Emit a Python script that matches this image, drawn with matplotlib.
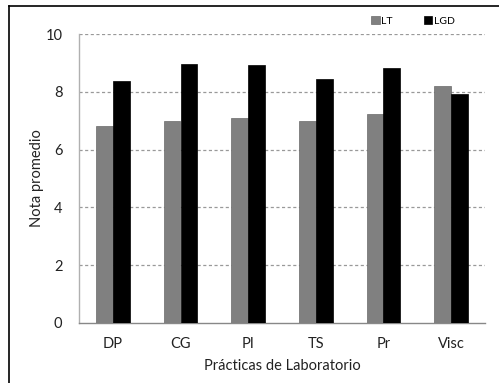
import matplotlib
matplotlib.use("Agg")
import matplotlib.pyplot as plt
import numpy as np
from matplotlib.lines import Line2D

categories = ["DP", "CG", "PI", "TS", "Pr", "Visc"]
lt_values = [6.80, 7.00, 7.08, 6.98, 7.22, 8.19]
lgd_values = [8.38, 8.95, 8.92, 8.45, 8.81, 7.92]
y_ticks = [0, 2, 4, 6, 8, 10]

plt.rcParams['font.family'] = ['Lato', 'DejaVu Sans']

fig = plt.figure(figsize=(4.99, 3.83), dpi=100)
ax = fig.add_axes([79/499, 1 - 323/383, (485-79)/499, (323-34)/383])

x = np.arange(len(categories))
w = 0.25
ax.bar(x - w/2, lt_values, w, color="#808080", edgecolor="#6a6a6a", linewidth=0.5, label="LT", zorder=3)
ax.bar(x + w/2, lgd_values, w, color="#000000", edgecolor="#000000", linewidth=0.5, label="LGD", zorder=3)

ax.set_xlim(-0.5, len(categories) - 0.5)
ax.set_ylim(0, 10)
ax.set_yticks(y_ticks)
ax.set_xticks(x)
ax.set_xticklabels(categories)
ax.tick_params(axis='both', length=0, labelsize=10.5, colors="#222222", pad=12)
ax.tick_params(axis='x', pad=10)
for t in y_ticks[1:]:
    ax.axhline(t, color="#999999", linestyle=(0, (2.5, 2)), linewidth=0.9, zorder=1)

for s in ["top", "right"]:
    ax.spines[s].set_visible(False)
ax.spines["left"].set_color("#b0b0b0")
ax.spines["bottom"].set_color("#888888")
ax.spines["left"].set_linewidth(1.0)
ax.spines["bottom"].set_linewidth(1.0)

ax.set_ylabel("Nota promedio", fontsize=10.5, color="#222222")
ax.yaxis.set_label_coords(-0.085, 0.5)
ax.set_xlabel("Prácticas de Laboratorio", fontsize=10.5, color="#222222", labelpad=6)

leg = ax.legend(loc="upper left", bbox_to_anchor=(0.72, 1.062), ncol=2, frameon=False,
                fontsize=7.5, handlelength=0.8, handleheight=0.8, handletextpad=0.15,
                columnspacing=3.0, borderpad=0, borderaxespad=0)

# outer frame (left and top only)
fig.add_artist(Line2D([9/499, 9/499], [0, 1 - 6/383], color="black", linewidth=1.2))
fig.add_artist(Line2D([9/499, 1], [1 - 6/383, 1 - 6/383], color="black", linewidth=1.2))

fig.savefig("out.png", dpi=100)
